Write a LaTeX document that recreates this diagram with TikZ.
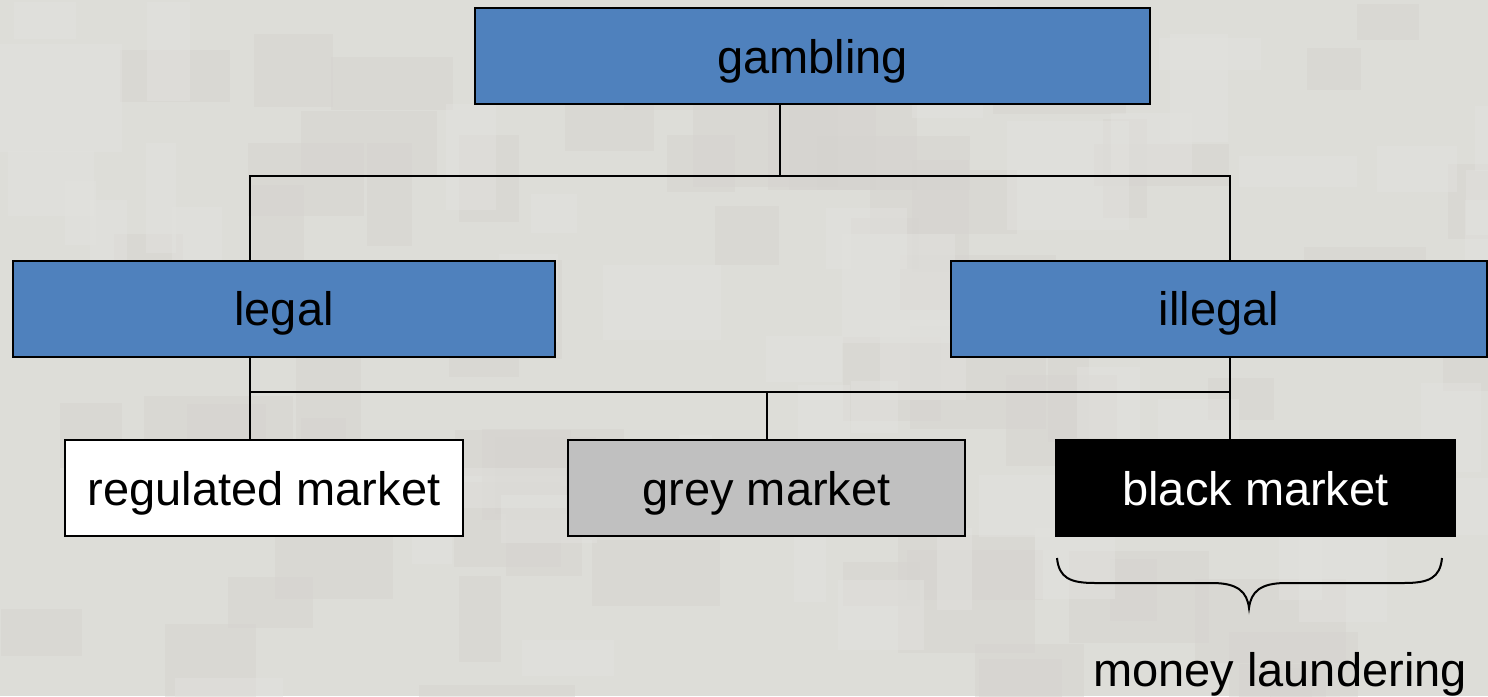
\documentclass[tikz,border=0pt]{standalone}
\usepackage{fontspec}
\setmainfont{Liberation Sans}
\definecolor{bg}{RGB}{221,221,216}
\definecolor{patchDark}{RGB}{213,211,207}
\definecolor{patchLight}{RGB}{227,227,223}
\definecolor{blueBox}{RGB}{79,129,189}
\definecolor{greyBox}{RGB}{192,192,192}
\begin{document}
\begin{tikzpicture}[x=0.5pt,y=-0.5pt,
  box/.style={draw=black,line width=1pt,inner sep=0pt,
    font=\fontsize{23.5}{28}\selectfont,minimum height=48pt,
    text height=21pt,text depth=4pt},
  link/.style={draw=black,line width=1pt},
  label/.style={font=\fontsize{23.5}{28}\selectfont,inner sep=0pt}]

% textured backdrop
\useasboundingbox (0,0) rectangle (1488,696);
\fill[bg] (0,0) rectangle (1488,696);
\begin{scope}
  \clip (0,0) rectangle (1488,696);
  \pgfmathsetseed{11}
  \foreach \i in {1,...,70} {
    \pgfmathsetmacro\px{rnd*1488}
    \pgfmathsetmacro\py{rnd*696}
    \pgfmathsetmacro\pw{40+rnd*120}
    \pgfmathsetmacro\ph{30+rnd*90}
    \fill[patchDark,opacity=0.45] (\px,\py) rectangle ++(\pw,\ph);
  }
  \foreach \i in {1,...,50} {
    \pgfmathsetmacro\px{rnd*1488}
    \pgfmathsetmacro\py{rnd*696}
    \pgfmathsetmacro\pw{30+rnd*100}
    \pgfmathsetmacro\ph{30+rnd*80}
    \fill[patchLight,opacity=0.45] (\px,\py) rectangle ++(\pw,\ph);
  }
\end{scope}

% boxes
\node[box,fill=blueBox,minimum width=337.5pt] (gam) at (812.5,56) {gambling};
\node[box,fill=blueBox,minimum width=271pt] (legal) at (284,308.5) {legal};
\node[box,fill=blueBox,minimum width=268pt] (illegal) at (1219,308.5) {illegal};
\node[box,fill=white,minimum width=199pt] (reg) at (264,488) {regulated market};
\node[box,fill=greyBox,minimum width=198.5pt] (grey) at (766.5,488) {grey market};
\node[box,fill=black,text=white,minimum width=199.5pt] (black) at (1255.5,488) {black market};

% junction points
\coordinate (top) at (780,176);
\coordinate (tl) at (250,176);
\coordinate (tr) at (1230,176);
\coordinate (bl) at (250,392);
\coordinate (br) at (1230,392);

% upper level connectors
\draw[link] (gam.south -| top) -- (top);
\draw[link] (tl |- legal.north) -- (tl) -- (tr) -- (tr |- illegal.north);

% lower level connectors
\draw[link] (legal.south -| bl) -- (bl) -- (br);
\draw[link] (illegal.south -| br) -- (br);
\draw[link] (bl) -- (bl |- reg.north);
\draw[link] (grey.north |- bl) -- (grey.north);
\draw[link] (br) -- (br |- black.north);

% brace under the black market
\draw[line width=1pt]
  (1057,558) .. controls (1059,578) and (1070,583) .. (1095,583)
  -- (1212,583) .. controls (1238,583) and (1247,592) .. (1249,608)
  .. controls (1251,592) and (1260,583) .. (1286,583)
  -- (1404,583) .. controls (1429,583) and (1440,578) .. (1442,558);
\node[label,anchor=base] (ml) at (1280,686) {money laundering};
\end{tikzpicture}
\end{document}
